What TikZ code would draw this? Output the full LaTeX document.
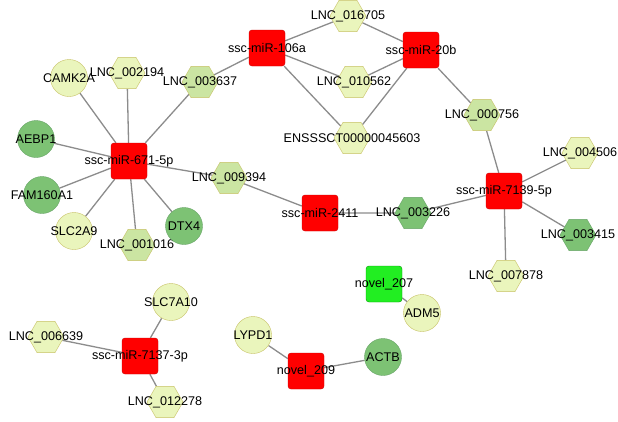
\documentclass[tikz,border=0pt]{standalone}
\usepackage{fontspec}
\setmainfont{Liberation Sans}
\usetikzlibrary{shapes.geometric,backgrounds}
\definecolor{cpale}{HTML}{EAF5BC}
\definecolor{cmid}{HTML}{CBE5A2}
\definecolor{cdark}{HTML}{7DC274}
\definecolor{cred}{HTML}{FF0000}
\definecolor{cgreen}{HTML}{22EE22}
\definecolor{edge}{HTML}{8C8C8C}
\tikzset{
 x=1pt,y=-1pt,
 lab/.style={font=\fontsize{12.6}{14}\selectfont,inner sep=0pt},
 sq/.style={rectangle,rounded corners=3pt,minimum size=36pt,inner sep=0pt,draw=red!80!black,fill=cred},
 hexp/.style={regular polygon,regular polygon sides=6,minimum size=36pt,inner sep=0pt,draw=olive!50,fill=cpale},
 hexm/.style={hexp,fill=cmid},
 hexd/.style={hexp,fill=cdark,draw=green!40!black!60},
 cirp/.style={circle,minimum size=37pt,inner sep=0pt,draw=olive!50,fill=cpale},
 cird/.style={cirp,fill=cdark,draw=green!40!black!60},
 ln/.style={draw=edge,line width=1.3pt},
}
\newcommand\nd[4]{\node[#1,label={[lab]center:#4}] (#2) at #3 {};}
\begin{document}
\begin{tikzpicture}
\path[use as bounding box] (0,0) rectangle (618,421);
\nd{sq}{m106}{(267,48)}{ssc-miR-106a}
\nd{sq}{m20}{(421,50)}{ssc-miR-20b}
\nd{hexp}{l016705}{(348,16)}{LNC\_016705}
\nd{hexp}{l010562}{(354,82)}{LNC\_010562}
\nd{hexp}{ens}{(352,138)}{ENSSSCT00000045603}
\nd{hexm}{l000756}{(482,115)}{LNC\_000756}
\nd{hexp}{l004506}{(580,153)}{LNC\_004506}
\nd{sq}{m7139}{(504,191)}{ssc-miR-7139-5p}
\nd{hexd}{l003415}{(578,235)}{LNC\_003415}
\nd{hexp}{l007878}{(506,276)}{LNC\_007878}
\nd{hexd}{l003226}{(413,213)}{LNC\_003226}
\nd{sq}{m2411}{(320,213)}{ssc-miR-2411}
\nd{hexm}{l009394}{(229,178)}{LNC\_009394}
\nd{sq}{m671}{(129,161)}{ssc-miR-671-5p}
\nd{hexm}{l003637}{(200,82)}{LNC\_003637}
\nd{hexp}{l002194}{(127,73)}{LNC\_002194}
\nd{cirp}{camk}{(69,78)}{CAMK2A}
\nd{cird}{aebp}{(36,139)}{AEBP1}
\nd{cird}{fam}{(42,195)}{FAM160A1}
\nd{cirp}{slc2}{(74,231)}{SLC2A9}
\nd{hexm}{l001016}{(137,245)}{LNC\_001016}
\nd{cird}{dtx}{(184,226)}{DTX4}
\node[rectangle,rounded corners=3pt,minimum size=36pt,inner sep=0pt,draw=green!60!black,fill=cgreen,label={[lab]center:novel\_207}] (n207) at (384,284) {};
\nd{cirp}{adm}{(422,313)}{ADM5}
\nd{cirp}{lypd}{(253,335)}{LYPD1}
\nd{cird}{actb}{(383,357)}{ACTB}
\nd{sq}{n209}{(306,371)}{novel\_209}
\nd{sq}{m7137}{(140,356)}{ssc-miR-7137-3p}
\nd{cirp}{slc7}{(171,302)}{SLC7A10}
\nd{hexp}{l006639}{(46,337)}{LNC\_006639}
\nd{hexp}{l012278}{(165,402)}{LNC\_012278}
\begin{scope}[on background layer]
\fill[white] (0,0) rectangle (618,421);
\draw[ln] (m106)--(l016705) (m106)--(l010562) (m106)--(ens) (m106)--(l003637)
 (m20)--(l016705) (m20)--(l010562) (m20)--(ens) (m20)--(l000756)
 (m7139)--(l000756) (m7139)--(l004506) (m7139)--(l003415) (m7139)--(l007878) (m7139)--(l003226)
 (m2411)--(l003226) (m2411)--(l009394)
 (m671)--(l009394) (m671)--(l003637) (m671)--(l002194) (m671)--(camk) (m671)--(aebp) (m671)--(fam) (m671)--(slc2) (m671)--(l001016) (m671)--(dtx)
 (n207)--(adm) (n209)--(lypd) (n209)--(actb)
 (m7137)--(slc7) (m7137)--(l006639) (m7137)--(l012278);
\end{scope}
\end{tikzpicture}
\end{document}
